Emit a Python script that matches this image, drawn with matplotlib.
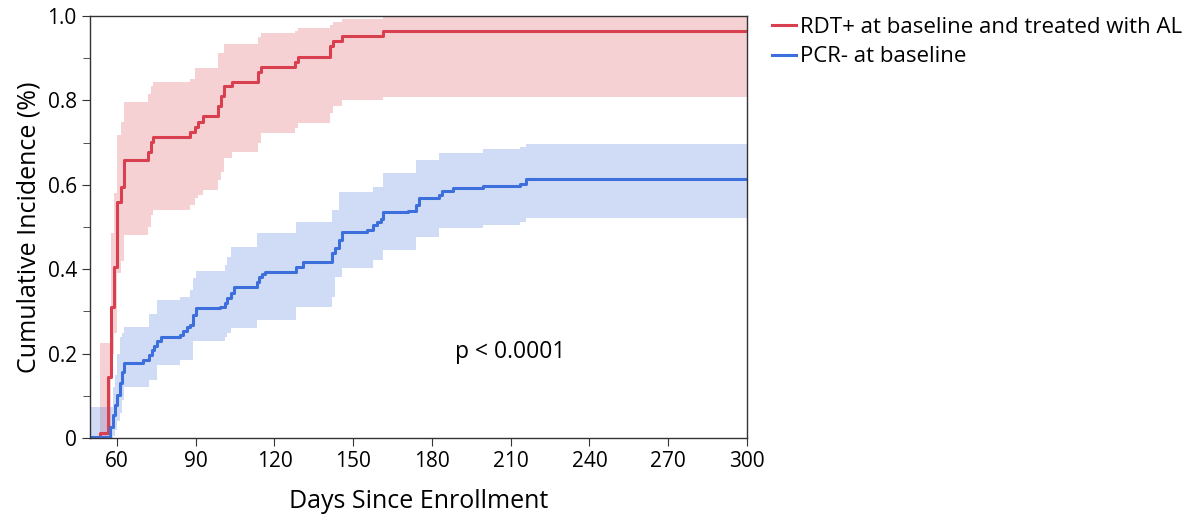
"""
Cumulative incidence curves with confidence bands
"""

import matplotlib
matplotlib.use("Agg")
import matplotlib.pyplot as plt
from matplotlib.lines import Line2D

plt.rcParams["font.family"] = ["Open Sans", "DejaVu Sans"]

# RDT+ at baseline and treated with AL
red_days = [50.0, 53.5, 56.7, 57.7, 59.0, 59.9, 61.5, 62.8, 71.9, 72.8, 73.8,
            87.8, 89.7, 91.0, 92.9, 98.6, 99.6, 100.8, 103.7, 113.8, 114.9,
            127.8, 128.8, 141.1, 142.2, 145.6, 161.5, 300.0]
red_est = [0.0, 0.011, 0.145, 0.311, 0.406, 0.56, 0.596, 0.658, 0.678, 0.702, 0.714,
           0.726, 0.738, 0.75, 0.763, 0.787, 0.81, 0.834, 0.844, 0.868, 0.88,
           0.892, 0.904, 0.929, 0.942, 0.953, 0.965, 0.965]
red_lo = [0.0, 0.0, 0.02, 0.2, 0.25, 0.39, 0.42, 0.481, 0.50, 0.528, 0.540,
          0.552, 0.568, 0.575, 0.588, 0.611, 0.63, 0.663, 0.678, 0.70, 0.722,
          0.735, 0.746, 0.77, 0.787, 0.801, 0.809, 0.809]
red_hi = [0.0, 0.225, 0.225, 0.486, 0.58, 0.718, 0.75, 0.797, 0.815, 0.834, 0.844,
          0.85, 0.876, 0.876, 0.876, 0.912, 0.912, 0.935, 0.935, 0.95, 0.959,
          0.965, 0.971, 0.98, 0.986, 0.993, 0.997, 0.997]

# PCR- at baseline
blue_days = [50.0, 57.3, 58.4, 59.2, 60.1, 61.1, 61.8, 62.8, 70.0, 72.3, 73.2,
             74.2, 75.3, 76.6, 84.0, 85.3, 86.5, 87.8, 89.1, 90.1, 99.2, 101.1,
             102.0, 103.3, 104.6, 113.2, 114.1, 115.1, 116.4, 128.1, 131.0,
             141.8, 143.0, 144.7, 145.6, 155.1, 157.7, 159.0, 160.6, 161.5,
             171.0, 173.9, 175.2, 182.8, 183.7, 188.1, 199.6, 213.5, 215.8, 300.0]
blue_est = [0.003, 0.027, 0.055, 0.079, 0.102, 0.130, 0.157, 0.179, 0.185, 0.197, 0.209,
            0.219, 0.229, 0.24, 0.244, 0.254, 0.262, 0.268, 0.291, 0.307, 0.311, 0.319,
            0.331, 0.344, 0.357, 0.37, 0.381, 0.389, 0.394, 0.406, 0.418,
            0.439, 0.45, 0.469, 0.488, 0.493, 0.505, 0.513, 0.518, 0.536,
            0.539, 0.552, 0.57, 0.576, 0.586, 0.592, 0.598, 0.601, 0.613, 0.613]
blue_lo = [0.0, 0.0, 0.005, 0.02, 0.04, 0.06, 0.09, 0.122, 0.122, 0.137, 0.137,
           0.137, 0.173, 0.173, 0.185, 0.185, 0.185, 0.185, 0.229, 0.229, 0.229, 0.24,
           0.25, 0.26, 0.26, 0.28, 0.28, 0.28, 0.28, 0.311, 0.311,
           0.335, 0.382, 0.382, 0.402, 0.402, 0.422, 0.422, 0.422, 0.445,
           0.445, 0.477, 0.477, 0.497, 0.497, 0.497, 0.505, 0.513, 0.521, 0.521]
blue_hi = [0.074, 0.074, 0.12, 0.15, 0.2, 0.24, 0.25, 0.264, 0.264, 0.295, 0.295,
           0.295, 0.327, 0.327, 0.335, 0.335, 0.335, 0.35, 0.38, 0.396, 0.396, 0.41,
           0.43, 0.453, 0.453, 0.485, 0.485, 0.485, 0.485, 0.513, 0.513,
           0.54, 0.54, 0.584, 0.584, 0.584, 0.596, 0.596, 0.596, 0.627,
           0.627, 0.659, 0.659, 0.675, 0.675, 0.675, 0.685, 0.69, 0.697, 0.697]

labels = ["RDT+ at baseline and treated with AL", "PCR- at baseline"]
x_ticks = [60, 90, 120, 150, 180, 210, 240, 270, 300]
y_ticks = [0, 0.2, 0.4, 0.6, 0.8, 1.0]
y_ticklabels = ["0", "0.2", "0.4", "0.6", "0.8", "1.0"]

RED = "#d9404f"
BLUE = "#3d6fdc"

fig = plt.figure(figsize=(11.95, 5.19), dpi=100)
ax = fig.add_axes([0.0753, 0.156, 0.5497, 0.813])

ax.fill_between(red_days, red_lo, red_hi, step="post", color=RED, alpha=0.24, lw=0)
ax.fill_between(blue_days, blue_lo, blue_hi, step="post", color=BLUE, alpha=0.24, lw=0)
ax.step(red_days, red_est, where="post", color=RED, lw=2.2)
ax.step(blue_days, blue_est, where="post", color=BLUE, lw=2.2)

ax.set_xlim(49.7, 300)
ax.set_ylim(0, 1.0)
ax.set_xticks(x_ticks)
ax.set_yticks(y_ticks)
ax.set_yticklabels(y_ticklabels)
ax.set_yticks([0.1, 0.3, 0.5, 0.7, 0.9], minor=True)
ax.tick_params(axis="both", which="major", labelsize=15, length=6, color="#333333")
ax.tick_params(axis="y", which="minor", length=5, color="#333333")
for s in ax.spines.values():
    s.set_color("#333333")
    s.set_linewidth(1.0)

ax.set_xlabel("Days Since Enrollment", fontsize=18, labelpad=12)
ax.set_ylabel("Cumulative Incidence (%)", fontsize=18, labelpad=4)

ax.text(188.8, 0.205, "p < 0.0001", fontsize=16.5, ha="left", va="center")

handles = [Line2D([], [], color=RED, lw=2.2), Line2D([], [], color=BLUE, lw=2.2)]
fig.legend(handles, labels, loc="upper left", bbox_to_anchor=(0.633, 0.998),
           frameon=False, fontsize=16, handlelength=1.1, handletextpad=0.15,
           labelspacing=0.4, borderaxespad=0.3)

plt.savefig("out.png")
